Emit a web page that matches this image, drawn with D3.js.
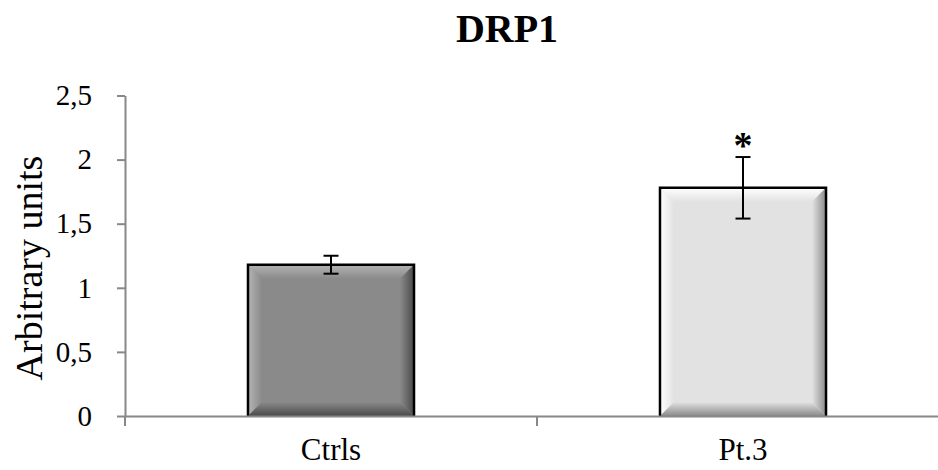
<!DOCTYPE html>
<html>
<head>
<meta charset="utf-8">
<script src="https://cdn.jsdelivr.net/npm/d3@7"></script>
<style>
  body { margin: 0; background: #fff; }
  text { font-family: "Liberation Serif", "Times New Roman", serif; fill: #000; }
</style>
</head>
<body>
<svg id="chart"></svg>
<script>
// data
var categories = ["Ctrls", "Pt.3"];
var means = [1.18, 1.78];
var errors = [0.07, 0.24];
var significant = [false, true];
var yTicks = [0, 0.5, 1, 1.5, 2, 2.5];

var faceColors = ["#8a8a8a", "#e2e2e2"];
var lightColors = ["#b4b4b4", "#ffffff"];
var darkColors = ["#4a4a4a", "#8a8a8a"];

var svgWidth = 938, svgHeight = 470;
var svg = d3.select("#chart")
    .attr("width", svgWidth)
    .attr("height", svgHeight);

var x = d3.scaleBand()
    .domain(categories)
    .range([125, 949])
    .padding(0);

var y = d3.scaleLinear()
    .domain([0, 2.5])
    .range([416, 95.5]);

var bw = x.bandwidth();
var barW = bw * 0.403;
var bevel = 14;

// title
svg.append("text")
    .attr("x", 507)
    .attr("y", 42)
    .attr("text-anchor", "middle")
    .style("font-size", "40px")
    .style("font-weight", "bold")
    .text("DRP1");

// y axis label
svg.append("text")
    .attr("transform", "translate(42,268) rotate(-90)")
    .attr("text-anchor", "middle")
    .style("font-size", "38px")
    .text("Arbitrary units");

// gradients for the bevelled bars
var defs = svg.append("defs");
function grad(id, x2, y2, c1, c2) {
    var g = defs.append("linearGradient")
        .attr("id", id)
        .attr("x1", 0).attr("y1", 0)
        .attr("x2", x2).attr("y2", y2);
    g.append("stop").attr("offset", "0%").attr("stop-color", c1);
    g.append("stop").attr("offset", "100%").attr("stop-color", c2);
}
categories.forEach(function(c, i) {
    grad("left" + i, 1, 0, lightColors[i], faceColors[i]);
    grad("top" + i, 0, 1, lightColors[i], faceColors[i]);
    grad("right" + i, 1, 0, faceColors[i], darkColors[i]);
    grad("bottom" + i, 0, 1, faceColors[i], darkColors[i]);
});

// bars
var bars = svg.selectAll(".bar")
    .data(categories)
    .enter().append("g")
    .attr("class", "bar");

bars.each(function(c, i) {
    var g = d3.select(this);
    var x0 = x(c) + (bw - barW) / 2, x1 = x0 + barW;
    var y0 = y(means[i]), y1 = y(0);
    var b = bevel;
    g.append("rect")
        .attr("x", x0).attr("y", y0)
        .attr("width", barW).attr("height", y1 - y0)
        .attr("fill", faceColors[i]);
    var pts = function(a) { return a.map(function(p) { return p.join(","); }).join(" "); };
    g.append("polygon")
        .attr("points", pts([[x0, y0], [x0 + b, y0 + b], [x0 + b, y1 - b], [x0, y1]]))
        .attr("fill", "url(#left" + i + ")");
    g.append("polygon")
        .attr("points", pts([[x0, y0], [x1, y0], [x1 - b, y0 + b], [x0 + b, y0 + b]]))
        .attr("fill", "url(#top" + i + ")");
    g.append("polygon")
        .attr("points", pts([[x1, y0], [x1, y1], [x1 - b, y1 - b], [x1 - b, y0 + b]]))
        .attr("fill", "url(#right" + i + ")");
    g.append("polygon")
        .attr("points", pts([[x0, y1], [x0 + b, y1 - b], [x1 - b, y1 - b], [x1, y1]]))
        .attr("fill", "url(#bottom" + i + ")");
    // outline on left, top and right
    g.append("path")
        .attr("d", "M" + x0 + "," + y1 + "V" + y0 + "H" + x1 + "V" + y1)
        .attr("fill", "none")
        .attr("stroke", "#000")
        .attr("stroke-width", 2.5);
});

// y axis
var yAxis = svg.append("g")
    .attr("transform", "translate(125,0)")
    .call(d3.axisLeft(y)
        .tickValues(yTicks)
        .tickSize(8)
        .tickSizeOuter(0)
        .tickPadding(25)
        .tickFormat(function(d) { return String(d).replace(".", ","); }));
yAxis.select(".domain").attr("stroke", "#888").attr("stroke-width", 2);
yAxis.selectAll(".tick line").attr("stroke", "#888").attr("stroke-width", 2);
yAxis.selectAll(".tick text")
    .style("font-family", "'Liberation Serif', 'Times New Roman', serif")
    .style("font-size", "29px")
    .attr("fill", "#000");

// x axis
var xAxis = svg.append("g")
    .attr("transform", "translate(0,416)")
    .call(d3.axisBottom(x).tickSize(0).tickSizeOuter(0).tickPadding(22));
xAxis.select(".domain").attr("stroke", "#888").attr("stroke-width", 2);
xAxis.selectAll(".tick text")
    .style("font-family", "'Liberation Serif', 'Times New Roman', serif")
    .style("font-size", "31px")
    .attr("fill", "#000");

// category separators
xAxis.selectAll(".sep")
    .data(categories)
    .enter().append("line")
    .attr("class", "sep")
    .attr("x1", function(d) { return x(d); })
    .attr("x2", function(d) { return x(d); })
    .attr("y1", 0)
    .attr("y2", 10)
    .attr("stroke", "#888")
    .attr("stroke-width", 2);

// error bars
var capW = 15;
var err = svg.selectAll(".err")
    .data(categories)
    .enter().append("g")
    .attr("class", "err")
    .attr("stroke", "#000")
    .attr("stroke-width", 2);

err.append("line")
    .attr("x1", function(d) { return x(d) + bw / 2; })
    .attr("x2", function(d) { return x(d) + bw / 2; })
    .attr("y1", function(d, i) { return y(means[i] + errors[i]); })
    .attr("y2", function(d, i) { return y(means[i] - errors[i]); });
err.append("line")
    .attr("x1", function(d) { return x(d) + bw / 2 - capW / 2; })
    .attr("x2", function(d) { return x(d) + bw / 2 + capW / 2; })
    .attr("y1", function(d, i) { return y(means[i] + errors[i]); })
    .attr("y2", function(d, i) { return y(means[i] + errors[i]); });
err.append("line")
    .attr("x1", function(d) { return x(d) + bw / 2 - capW / 2; })
    .attr("x2", function(d) { return x(d) + bw / 2 + capW / 2; })
    .attr("y1", function(d, i) { return y(means[i] - errors[i]); })
    .attr("y2", function(d, i) { return y(means[i] - errors[i]); });

// significance marks
svg.selectAll(".star")
    .data(categories.filter(function(d, i) { return significant[i]; }))
    .enter().append("text")
    .attr("class", "star")
    .attr("x", function(d) { return x(d) + bw / 2; })
    .attr("y", function(d) { var i = categories.indexOf(d); return y(means[i] + errors[i]) + 1; })
    .attr("text-anchor", "middle")
    .style("font-size", "38px")
    .style("font-weight", "bold")
    .text("*");
</script>
</body>
</html>
